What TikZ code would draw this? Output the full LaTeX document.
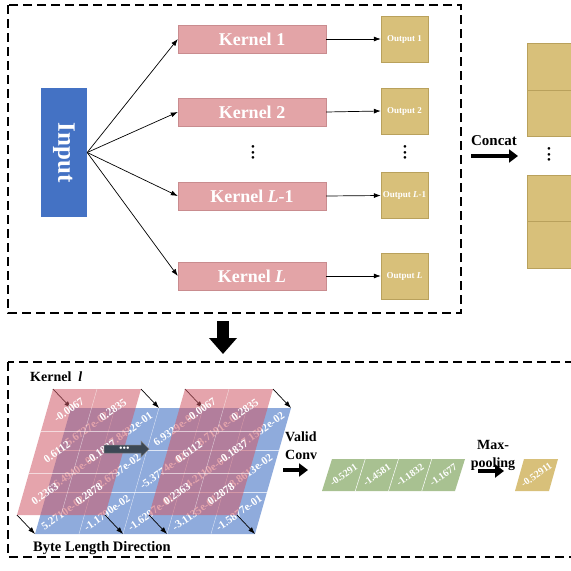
\documentclass[tikz,border=0pt]{standalone}
\usepackage{fontspec}
\setmainfont{Liberation Serif}
\usetikzlibrary{arrows,arrows.meta,shapes.arrows,calc}

\definecolor{inblue}{HTML}{4472C4}
\definecolor{kpink}{HTML}{E3A4A7}
\definecolor{kborder}{HTML}{C98C8F}
\definecolor{tan}{HTML}{D8C07A}
\definecolor{tborder}{HTML}{B9A15C}
\definecolor{gridblue}{HTML}{8FABDC}
\definecolor{gridpink}{HTML}{CF5A68}
\definecolor{convgreen}{HTML}{A8C191}
\definecolor{slate}{HTML}{3C4855}

\begin{document}
\begin{tikzpicture}[
x=1pt,y=-1pt,
kernel/.style={
  draw=kborder,
  fill=kpink,
  minimum width=148pt,
  minimum height=28pt,
  inner sep=0pt,
  text=white,
  font=\fontsize{18}{18}\selectfont\bfseries
  },
outbox/.style={
  draw=tborder,
  fill=tan,
  minimum width=47pt,
  minimum height=46pt,
  inner sep=0pt,
  text=white,
  font=\fontsize{9}{9}\selectfont\bfseries
  },
catbox/.style={
  draw=tborder,
  fill=tan,
  minimum width=58pt,
  minimum height=46.5pt
  },
txt/.style={
  font=\fontsize{14}{18}\selectfont\bfseries,
  inner sep=0pt
  },
dotsnode/.style={
  align=center,
  font=\fontsize{11}{5.5}\selectfont,
  inner sep=0pt
  },
dashbox/.style={
  draw,
  line width=1.2pt,
  dash pattern=on 9pt off 5pt
  },
fat/.style={
  line width=4.5pt,
  -{Triangle[length=9pt,width=13pt]}
  },
link/.style={
  ->,
  line width=0.7pt
  },
val/.style={
  text=white,
  font=\fontsize{11}{11}\selectfont\bfseries,
  rotate=35,
  inner sep=0pt
  },
>={Latex[length=7pt,width=5pt]}
]
\path[use as bounding box,clip] (0,0) rectangle (571,571);

% top part: input, kernels and outputs
\draw[dashbox] (8,5) rectangle (461,313);

\node[fill=inblue, rotate=-90, minimum width=129pt, minimum height=46pt,
  inner sep=0pt, text=white, font=\fontsize{25}{25}\selectfont\bfseries]
  (input) at (64,152.5) {Input};

\node[kernel] (k1) at (252,39) {Kernel 1};
\node[kernel] (k2) at (252,112) {Kernel 2};
\node[kernel] (k3) at (252,196) {Kernel \textit{L}-1};
\node[kernel] (k4) at (252,276) {Kernel \textit{L}};
\node[dotsnode] (kdots) at (253,154) {\textbullet\\\textbullet\\\textbullet};

\node[outbox] (o1) at (404.5,39) {Output 1};
\node[outbox] (o2) at (404.5,111) {Output 2};
\node[outbox] (o3) at (404.5,195.5) {Output \textit{L}-1};
\node[outbox] (o4) at (404.5,276) {Output \textit{L}};
\node[dotsnode] (odots) at (405,154) {\textbullet\\\textbullet\\\textbullet};

\foreach \i in {1,...,4}
{
  \draw[link] (input.north) -- (k\i.west);
  \draw[link] (k\i.east) -- (o\i.west);
}

% concat
\node[txt, font=\fontsize{15}{15}\selectfont\bfseries] (concat) at (494,141) {Concat};
\coordinate (ca) at (471,156);
\coordinate (cb) at (518,156);
\draw[fat] (ca) -- (cb);

\node[catbox] (c1) at (556,66.5) {};
\node[catbox] (c2) at (556,113) {};
\node[catbox] (c3) at (556,198) {};
\node[catbox] (c4) at (556,244.5) {};
\node[dotsnode] (cdots) at (549,156) {\textbullet\\\textbullet\\\textbullet};

% down arrow
\coordinate (da) at (223,321);
\coordinate (db) at (223,354);
\draw[line width=12pt, -{Triangle[length=16pt,width=27pt]}] (da) -- (db);

% bottom part: sliding kernel
\draw[dashbox] (8,362) rectangle (600,557);
\node[txt, anchor=west] (klabel) at (30,377) {Kernel\ \ \textit{l}};

% blue byte matrix
\foreach \r in {0,...,3}
  \foreach \c in {0,...,5}
    \coordinate (b\r\c) at ({71+44*\c-12*\r},{408+42*\r});
\fill[gridblue] (b00) -- (b05) -- (b35) -- (b30) -- cycle;
\foreach \c in {1,...,4}
  \draw[white, opacity=0.7, line width=0.4pt] (b0\c) -- (b3\c);
\foreach \r in {1,2}
  \draw[white, opacity=0.7, line width=0.4pt] (b\r0) -- (b\r5);
\foreach \row [count=\r from 0] in {
  {5.6727e-02,7.8432e-01,6.9329e-02,8.7191e-02,7.1592e-02},
  {6.4940e-02,2.6737e-02,-5.3774e-02,4.2110e-02,8.8613e-02},
  {5.2710e-02,-1.1790e-02,-1.6297e-01,-3.1135e-01,-1.5877e-01}}
{
  \foreach \v [count=\c from 0] in \row
    \node[val] (bv-\r-\c) at ({87+44*\c-12*\r},{429+42*\r}) {\v};
}

% kernel corners and their shift
\foreach \n/\xo in {1/53,2/185}
{
  \coordinate (k\n-nw) at (\xo,389);
  \coordinate (k\n-ne) at (\xo+88,389);
  \coordinate (k\n-sw) at (\xo-36,515);
  \coordinate (k\n-se) at (\xo+52,515);
}
\draw[link] (k1-nw) -- (b00);
\draw[link] (k1-ne) -- (b02);
\draw[link] (k1-sw) -- (b30);
\draw[link] (k1-se) -- (b32);
\draw[link] (k2-nw) -- (b03);
\draw[link] (k2-ne) -- (b05);
\draw[link] (k2-sw) -- (b33);
\draw[link] (k2-se) -- (b35);

% pink kernels
\foreach \n/\xo in {1/53,2/185}
{
  \fill[gridpink, opacity=0.55] (k\n-nw) -- (k\n-ne) -- (k\n-se) -- (k\n-sw) -- cycle;
  \draw[white, opacity=0.6, line width=0.4pt] (\xo+44,389) -- (\xo+8,515);
  \foreach \r in {1,2}
    \draw[white, opacity=0.6, line width=0.4pt] ({\xo-12*\r},{389+42*\r}) -- ({\xo+88-12*\r},{389+42*\r});
  \foreach \row [count=\r from 0] in {{-0.0067,0.2835},{0.6112,-0.1837},{0.2363,0.2878}}
  {
    \foreach \v [count=\c from 0] in \row
      \node[val] (kv\n-\r-\c) at ({\xo+16+44*\c-12*\r},{410+42*\r}) {\v};
  }
}

\node[single arrow, fill=slate, draw=gray, line width=0.5pt, text=white,
  minimum height=45pt, single arrow head extend=4pt, inner sep=1.5pt,
  font=\fontsize{10}{10}\selectfont] (slide) at (124.5,449)
  {\textbullet\textbullet\textbullet};

\node[txt, anchor=south west] (byte) at (33,555) {\fontsize{14.5}{15}\selectfont Byte Length Direction};

% valid conv
\node[txt, anchor=west, align=left] (valid) at (285,446) {Valid\\Conv};
\coordinate (va) at (283,470);
\coordinate (vb) at (308,470);
\draw[fat] (va) -- (vb);

\coordinate (g0) at (332,459);
\coordinate (g1) at (465,459);
\coordinate (g2) at (455,491);
\coordinate (g3) at (322,491);
\fill[convgreen] (g0) -- (g1) -- (g2) -- (g3) -- cycle;
\foreach \c in {1,2,3}
  \draw[white, line width=0.5pt] ({332+33.25*\c},459) -- ({322+33.25*\c},491);
\foreach \v [count=\c from 0] in {-0.5291,-1.4581,-1.1832,-1.1677}
  \node[val, font=\fontsize{10}{10}\selectfont\bfseries] (gv\c) at ({343.6+33.25*\c},475) {\v};

% max pooling
\node[txt, align=center] (pool) at (493,455) {Max-\\pooling};
\coordinate (pa) at (478,471);
\coordinate (pb) at (504,471);
\draw[fat] (pa) -- (pb);

\coordinate (m0) at (524,459);
\coordinate (m1) at (558,459);
\coordinate (m2) at (549,491);
\coordinate (m3) at (515,491);
\fill[tan] (m0) -- (m1) -- (m2) -- (m3) -- cycle;
\node[val, font=\fontsize{10}{10}\selectfont\bfseries] (mv) at (536.5,475) {-0.52911};

\end{tikzpicture}
\end{document}
